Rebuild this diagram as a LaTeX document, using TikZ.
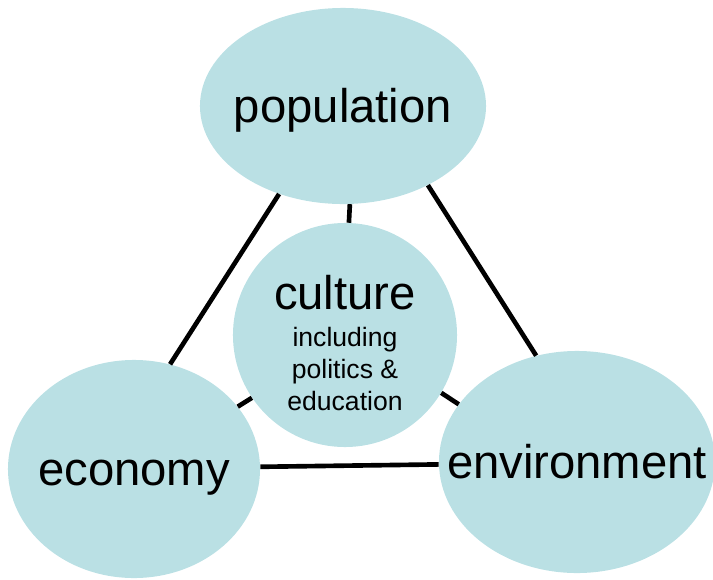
\documentclass[tikz,border=0pt]{standalone}
\usepackage{fontspec}
\setmainfont{Liberation Sans}
\usepackage{xcolor}
\usepackage{tikz}
\usetikzlibrary{shapes.geometric}
\definecolor{bubblecol}{RGB}{186,224,228}
\newcommand{\bigtxt}{\fontsize{33.6}{40}\selectfont}
\newcommand{\smalltxt}{\fontsize{18.9}{22.8}\selectfont}
\tikzstyle{bubble} = [ellipse, fill=bubblecol, inner sep=0pt, font=\bigtxt]
\tikzstyle{ring} = [bubble, text height=30pt, text depth=6.6pt]
\tikzstyle{tie} = [draw, line width=3.3pt]

\begin{document}
\begin{tikzpicture}[x=0.025cm, y=-0.025cm]
\useasboundingbox (0,0) rectangle (713,580);
% outer ring
\node [ring, minimum width=7.15cm, minimum height=4.9cm] at (343,106) (pop) {\makebox[0pt]{population}};
\node [ring, minimum width=6.3cm, minimum height=5.45cm] at (134,469) (eco) {\makebox[0pt]{economy}};
\node [ring, minimum width=6.9cm, minimum height=5.55cm] at (577,462) (env) {\makebox[0pt]{environment}};

% centre
\node [bubble, circle, minimum size=5.6cm, align=center] at (345,335) (cul)
  {\rule{0pt}{36pt}culture\\[-14pt]{\smalltxt including}\\[-17pt]{\smalltxt politics \&}\\[-17pt]{\smalltxt education}};

% outer ties
\path [tie] (pop.234) to (eco.71);
\path [tie] (pop.317) to (env.111);
\path [tie] (eco.1) to (env.181);

% ties to culture
\path [tie] (pop.274) to (cul.88);
\path [tie] (eco.31) to (cul.214);
\path [tie] (env.154) to (cul.329);
\end{tikzpicture}
\end{document}
